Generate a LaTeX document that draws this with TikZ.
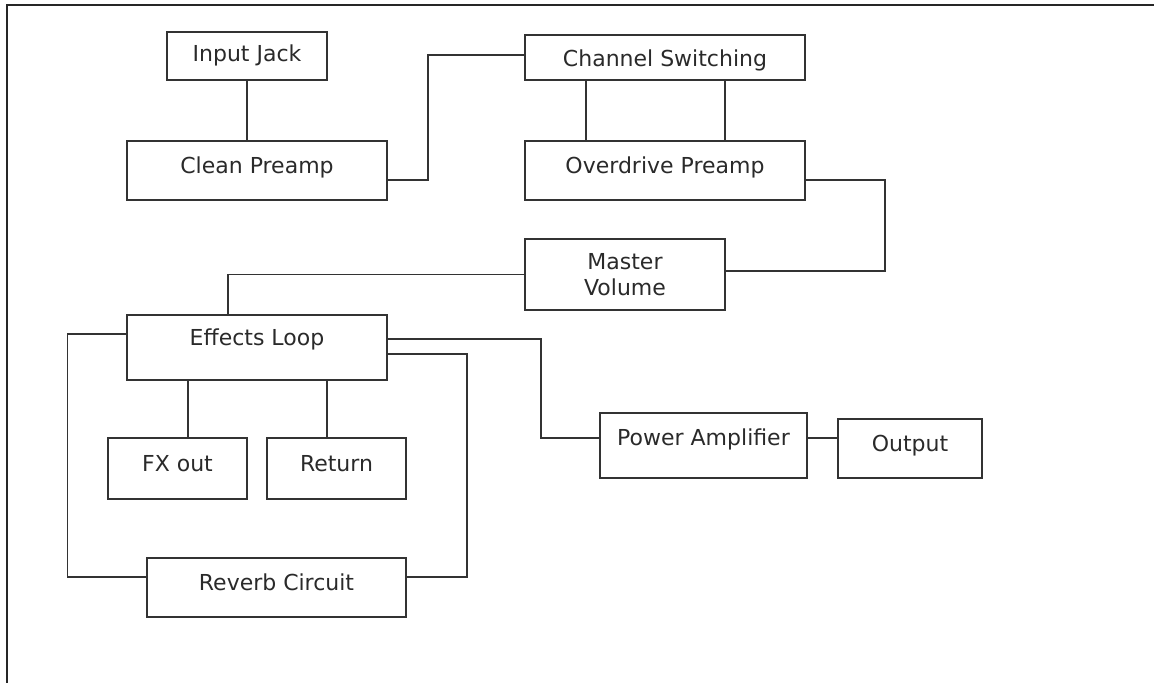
\documentclass[tikz,border=0pt]{standalone}
\usepackage{fontspec}
\setmainfont{DejaVu Sans}
\definecolor{ln}{HTML}{333333}
\definecolor{tx}{HTML}{2A2A2A}
\begin{document}
\begin{tikzpicture}[x=1pt,y=-1pt,
  every node/.style={font=\fontsize{22}{26}\selectfont, text=tx},
  bx/.style={draw=ln, line width=1.5pt, rectangle, inner sep=0pt, align=center},
  wire/.style={draw=ln, line width=1.5pt}]
\useasboundingbox (0,0) rectangle (1154,683);
\draw[draw=black!85, line width=1.7pt] (1154,5) -- (7,5) -- (7,683);

\node[bx, minimum width=160, minimum height=48, text height=29pt, text depth=19pt] (ij) at (247,56) {Input Jack};
\node[bx, minimum width=260, minimum height=59, text height=32pt, text depth=27pt] (cp) at (257,170.5) {Clean Preamp};
\node[bx, minimum width=280, minimum height=45, text height=31pt, text depth=14pt] (cs) at (665,57.5) {Channel Switching};
\node[bx, minimum width=280, minimum height=59, text height=32pt, text depth=27pt] (od) at (665,170.5) {Overdrive Preamp};
\node[bx, minimum width=200, minimum height=71] (mv) at (625,274.5) {Master\\Volume};
\node[bx, minimum width=260, minimum height=65, text height=30pt, text depth=35pt] (el) at (257,347.5) {Effects Loop};
\node[bx, minimum width=139, minimum height=61, text height=33pt, text depth=28pt] (fx) at (177.5,468.5) {FX out};
\node[bx, minimum width=139, minimum height=61, text height=33pt, text depth=28pt] (rt) at (336.5,468.5) {Return};
\node[bx, minimum width=259, minimum height=59, text height=32pt, text depth=27pt] (rv) at (276.5,587.5) {Reverb Circuit};
\node[bx, minimum width=207, minimum height=65, text height=32pt, text depth=33pt] (pa) at (703.5,445.5) {Power Amplifier};
\node[bx, minimum width=144, minimum height=59, text height=32pt, text depth=27pt] (out) at (910,448.5) {Output};

% connectors
\draw[wire] (ij.south) -- (ij.south |- cp.north);
\draw[wire] ([yshift=-9.5pt]cp.east) -- ++(40,0) |- ([yshift=2.5pt]cs.west);
\draw[wire] ([xshift=-79pt]cs.south) -- ([xshift=-79pt]od.north);
\draw[wire] ([xshift=60pt]cs.south) -- ([xshift=60pt]od.north);
\draw[wire] ([yshift=-9.5pt]od.east) -- ++(79,0) |- ([yshift=3.5pt]mv.east);
\draw[wire] (mv.west) -| ([xshift=-29pt]el.north);
\draw[wire] ([yshift=13.5pt]el.west) -- ++(-59,0) |- ([yshift=10.5pt]rv.west);
\draw[wire] ([yshift=10.5pt]rv.east) -- ++(60,0) |- ([yshift=-6.5pt]el.east);
\draw[wire] ([yshift=8.5pt]el.east) -- ++(153,0) |- ([yshift=7.5pt]pa.west);
\draw[wire] ([yshift=7.5pt]pa.east) -- ([yshift=7.5pt]pa.east -| out.west);
\draw[wire] ([xshift=-69pt]el.south) -- ([xshift=-69pt]el.south |- fx.north);
\draw[wire] ([xshift=70pt]el.south) -- ([xshift=70pt]el.south |- rt.north);
\end{tikzpicture}
\end{document}
